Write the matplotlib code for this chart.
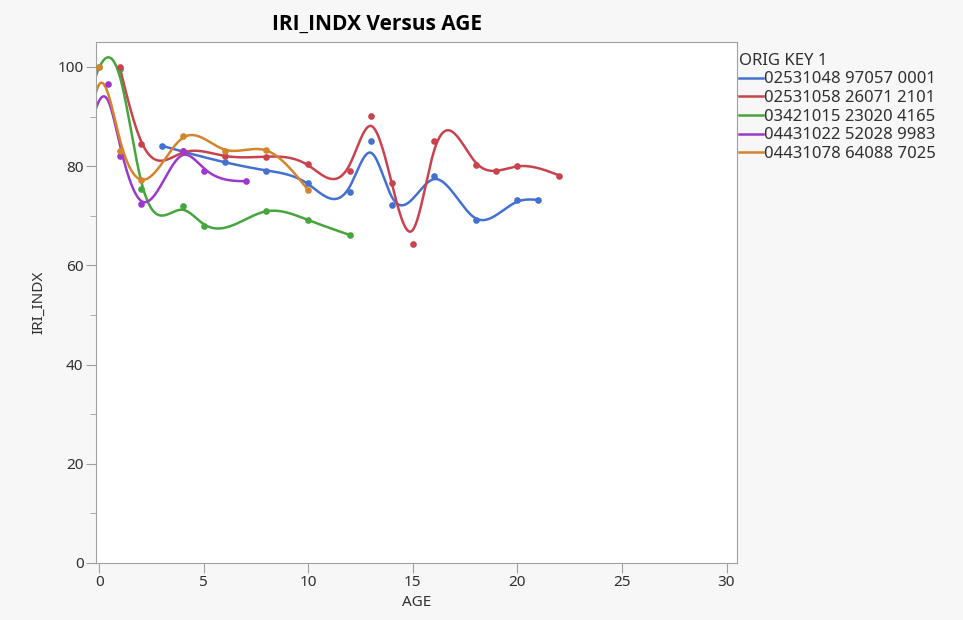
import numpy as np
import matplotlib.pyplot as plt
from matplotlib.lines import Line2D
from matplotlib.ticker import MultipleLocator

plt.rcParams['font.family'] = ['Noto Sans', 'DejaVu Sans']

# series keys and colours (JMP default palette)
keys = ['02531048 97057 0001', '02531058 26071 2101', '03421015 23020 4165',
        '04431022 52028 9983', '04431078 64088 7025']
colors = ['#4470d2', '#c9434f', '#46a53c', '#9c38cc', '#d3842c']
# drawing order of the dots (higher = on top)
dot_z = [4, 5, 3, 6, 7]

# values (age -1 points sit just left of the axis)
age_0001 = [3, 6, 8, 10, 12, 13, 14, 16, 18, 20, 21]
iri_0001 = [84.1, 80.8, 79.1, 76.6, 74.7, 85.1, 72.1, 78.0, 69.1, 73.1, 73.1]

age_2101 = [1, 2, 4, 6, 8, 10, 12, 13, 14, 15, 16, 18, 19, 20, 22]
iri_2101 = [100, 84.5, 83.0, 82.0, 81.9, 80.4, 79.1, 90.1, 76.7, 64.3, 85.1, 80.2, 79.1, 80.1, 78.1]

age_4165 = [-1, 0, 1, 2, 4, 5, 8, 10, 12]
iri_4165 = [84, 100, 99.6, 75.3, 72.0, 67.9, 71.0, 69.1, 66.1]

age_9983 = [-1, 0.4, 1, 2, 4, 5, 7]
iri_9983 = [74, 96.5, 82.1, 72.4, 83.1, 79.1, 77.0]

age_7025 = [-1, 0, 1, 2, 4, 6, 8, 10]
iri_7025 = [68, 100, 83.1, 77.2, 86.1, 83.1, 83.3, 75.1]

ages = [age_0001, age_2101, age_4165, age_9983, age_7025]
iris = [iri_0001, iri_2101, iri_4165, iri_9983, iri_7025]


def smooth_spline(x, y, lam):
    # Reinsch smoothing spline: fitted values + second derivatives at knots
    x = np.asarray(x, float)
    y = np.asarray(y, float)
    n = len(x)
    h = np.diff(x)
    Q = np.zeros((n, n - 2))
    R = np.zeros((n - 2, n - 2))
    for j in range(1, n - 1):
        Q[j - 1, j - 1] = 1 / h[j - 1]
        Q[j, j - 1] = -1 / h[j - 1] - 1 / h[j]
        Q[j + 1, j - 1] = 1 / h[j]
        R[j - 1, j - 1] = (h[j - 1] + h[j]) / 3
        if j < n - 2:
            R[j - 1, j] = h[j] / 6
            R[j, j - 1] = h[j] / 6
    gamma = np.linalg.solve(R + lam * Q.T @ Q, Q.T @ y)
    g = y - lam * Q @ gamma
    return g, np.concatenate([[0], gamma, [0]])


def eval_spline(x, g, gamma, t):
    x = np.asarray(x, float)
    i = np.clip(np.searchsorted(x, t) - 1, 0, len(x) - 2)
    hi = x[i + 1] - x[i]
    a = t - x[i]
    b = x[i + 1] - t
    return (a * g[i + 1] + b * g[i]) / hi - a * b / 6 * (
        (1 + a / hi) * gamma[i + 1] + (1 + b / hi) * gamma[i])


fig = plt.figure(figsize=(9.63, 6.2), dpi=100, facecolor='#f7f7f7')
ax = fig.add_axes([0.0997, 0.092, 0.6656, 0.840])
ax.set_facecolor('white')

for x, y, c, z in zip(ages, iris, colors, dot_z):
    g, gamma = smooth_spline(x, y, 0.025)
    t = np.linspace(x[0], x[-1], 600)
    ax.plot(t, eval_spline(x, g, gamma, t), color=c, lw=1.8, solid_capstyle='round', zorder=2)
    ax.plot(x, y, 'o', color=c, ms=4.8, mec='none', zorder=z)

ax.set_xlim(-0.15, 30.5)
ax.set_ylim(0, 105)
ax.set_xticks(range(0, 31, 5))
ax.set_yticks(range(0, 101, 20))
ax.yaxis.set_minor_locator(MultipleLocator(10))

for s in ax.spines.values():
    s.set_color('#a0a0a0')
ax.tick_params(which='major', direction='out', length=7, color='#a0a0a0',
               labelsize=11, labelcolor='#303030', pad=2)
ax.tick_params(which='minor', direction='out', length=4, color='#a0a0a0')

ax.set_xlabel('AGE', fontsize=11, color='#303030', labelpad=3)
ax.set_ylabel('IRI_INDX', fontsize=11, color='#303030', labelpad=8)

fig.text(0.392, 0.960, 'IRI_INDX Versus AGE', ha='center', va='center',
         fontsize=15, fontweight='bold', color='black',
         family=['Open Sans', 'DejaVu Sans'])

# legend: lines only
handles = [Line2D([], [], color=c, lw=1.8) for c in colors]
leg = fig.legend(handles, keys, loc='upper left', bbox_to_anchor=(0.767, 0.915),
                 frameon=False, title='ORIG KEY 1', alignment='left', fontsize=12,
                 title_fontsize=12, handlelength=1.45, handletextpad=0.1,
                 labelspacing=0.16, borderpad=0, borderaxespad=0)
for txt in leg.get_texts():
    txt.set_color('#303030')
leg.get_title().set_color('#303030')

fig.savefig('out.png', dpi=100, facecolor=fig.get_facecolor())
